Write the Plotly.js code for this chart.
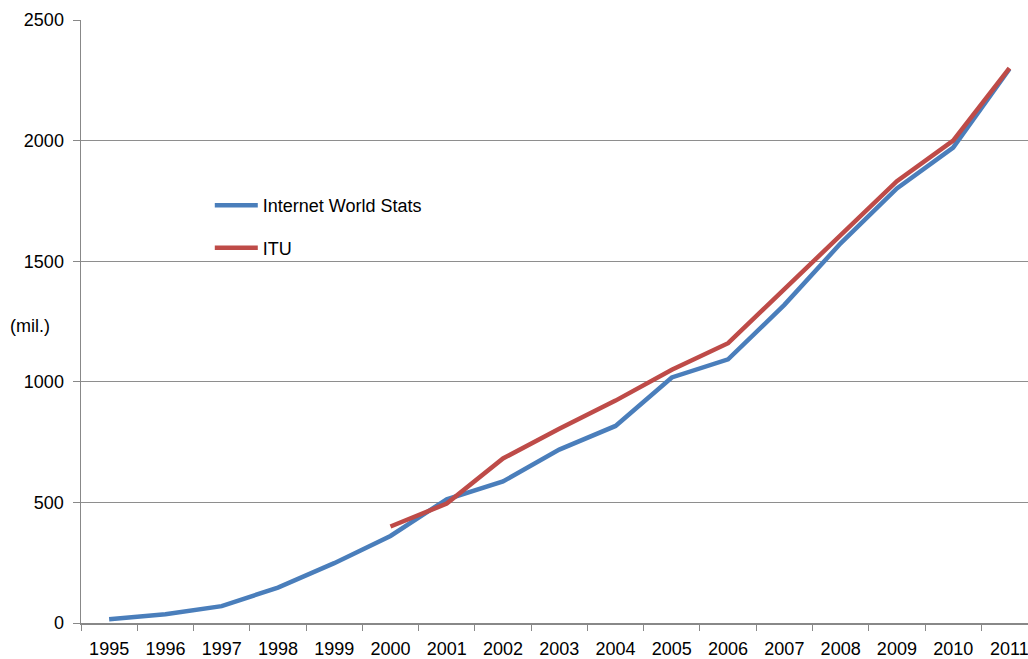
<!DOCTYPE html>
<html>
<head>
<meta charset="utf-8">
<script src="https://cdn.plot.ly/plotly-3.0.1.min.js"></script>
<style>html,body{margin:0;padding:0;background:#fff;}#chart{width:1028px;height:659px;}</style>
</head>
<body>
<div id="chart"></div>
<script>
const years = ["1995","1996","1997","1998","1999","2000","2001","2002","2003","2004","2005","2006","2007","2008","2009","2010","2011"];
const iwsValues = [16, 36, 70, 147, 248, 361, 513, 587, 719, 817, 1018, 1093, 1319, 1574, 1802, 1971, 2297];
const ituYears = ["2000","2001","2002","2003","2004","2005","2006","2007","2008","2009","2010","2011"];
const ituValues = [400, 495, 682, 805, 922, 1050, 1160, 1385, 1612, 1832, 2000, 2300];
const yTicks = [0, 500, 1000, 1500, 2000, 2500];

const fontFam = "Liberation Sans, Arial, sans-serif";
const traces = [
  {x: years, y: iwsValues, type: "scatter", mode: "lines", name: "Internet World Stats",
   line: {color: "#4a7ebb", width: 4.5}, legendgroup: "a"},
  {x: ituYears, y: ituValues, type: "scatter", mode: "lines", name: "ITU",
   line: {color: "#be4b48", width: 4.5}, legendgroup: "b"}
];
const layout = {
  width: 1028, height: 659,
  margin: {l: 81, r: 0, t: 20, b: 36},
  paper_bgcolor: "#fff", plot_bgcolor: "#fff",
  font: {family: fontFam, size: 18, color: "#000"},
  xaxis: {
    type: "category", categoryorder: "array", categoryarray: years,
    range: [-0.5, 16.33], tickson: "boundaries", ticks: "outside", ticklen: 6,
    tickcolor: "#888", showgrid: false, showline: true, linecolor: "#888", linewidth: 1.5,
    tickfont: {family: fontFam, size: 18}, zeroline: false, fixedrange: true,
    ticklabelstandoff: 9
  },
  yaxis: {
    range: [0, 2500], tickvals: yTicks, ticktext: yTicks.map(String),
    ticks: "outside", ticklen: 7, tickcolor: "#888", showgrid: true, gridcolor: "#8e8e8e", gridwidth: 1.3,
    showline: true, linecolor: "#888", linewidth: 1.5, zeroline: false,
    tickfont: {family: fontFam, size: 18}, fixedrange: true,
    ticklabelstandoff: 5
  },
  showlegend: true,
  legend: {x: 0.136, y: 0.723, xanchor: "left", yanchor: "top", bgcolor: "rgba(0,0,0,0)",
    traceorder: "grouped", tracegroupgap: 16, itemwidth: 43,
    font: {family: fontFam, size: 18}},
  annotations: [
    {text: "(mil.)", xref: "paper", yref: "paper", x: -0.077, y: 0.4925, xanchor: "left", yanchor: "middle",
     showarrow: false, font: {family: fontFam, size: 18}}
  ]
};
Plotly.newPlot("chart", traces, layout, {displayModeBar: false, staticPlot: true});
</script>
</body>
</html>
